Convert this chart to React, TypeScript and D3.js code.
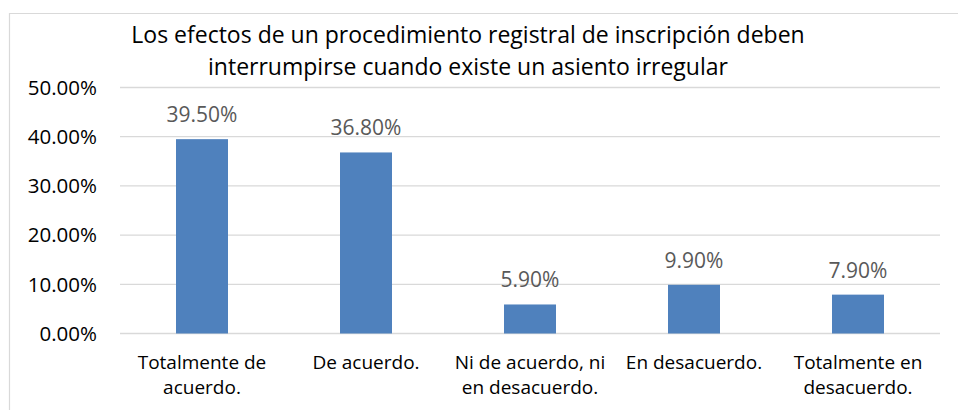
import React from "react";
import * as d3 from "d3";

const titleLines = [
  "Los efectos de un procedimiento registral de inscripción deben",
  "interrumpirse cuando existe un asiento irregular",
];
const categories = [
  ["Totalmente de", "acuerdo."],
  ["De acuerdo."],
  ["Ni de acuerdo, ni", "en desacuerdo."],
  ["En desacuerdo."],
  ["Totalmente en", "desacuerdo."],
];
const values = [0.395, 0.368, 0.059, 0.099, 0.079];
const yTicks = [0, 0.1, 0.2, 0.3, 0.4, 0.5];

const W = 958;
const H = 410;
const FONT = "'Open Sans', sans-serif";

export default function App() {
  const left = 120;
  const right = 940;
  const top = 87.5;
  const bottom = 333.5;
  const x = d3
    .scaleBand<number>()
    .domain(d3.range(categories.length))
    .range([left, right])
    .paddingInner(0.683)
    .paddingOuter(0.683 / 2);
  const y = d3.scaleLinear().domain([0, 0.5]).range([bottom, top]);
  const fmt = d3.format(".2%");
  const center = (i: number) => (x(i) as number) + x.bandwidth() / 2;

  return (
    <svg
      width={W}
      height={H}
      style={{ position: "absolute", left: 0, top: 0, background: "#fff" }}
      fontFamily={FONT}
    >
      <rect x={0} y={0} width={W} height={H} fill="#fff" />
      {/* chart border */}
      <path d={`M9.5,${H + 2} V13.5 H${W + 2}`} fill="none" stroke="#d9d9d9" strokeWidth={1.2} />
      {/* title */}
      {titleLines.map((t, i) => (
        <text key={i} x={468} y={43 + i * 32} textAnchor="middle" fontSize={23} fill="#000">
          {t}
        </text>
      ))}
      {/* gridlines */}
      {yTicks.map((t) => (
        <line key={t} x1={left} x2={right} y1={y(t)} y2={y(t)} stroke="#d9d9d9" strokeWidth={1.3} />
      ))}
      {/* y labels */}
      {yTicks.map((t) => (
        <text key={t} x={97} y={y(t)} dy="0.36em" textAnchor="end" fontSize={20.5} fill="#000">
          {fmt(t)}
        </text>
      ))}
      {/* bars */}
      {values.map((v, i) => (
        <rect
          key={i}
          x={x(i)}
          y={y(v)}
          width={x.bandwidth()}
          height={y(0) - y(v)}
          fill="#4f81bd"
        />
      ))}
      {/* data labels */}
      {values.map((v, i) => (
        <text key={i} x={center(i)} y={y(v) - 17} textAnchor="middle" fontSize={21} fill="#595959">
          {fmt(v)}
        </text>
      ))}
      {/* category labels */}
      {categories.map((lines, i) =>
        lines.map((l, j) => (
          <text key={`${i}-${j}`} x={center(i)} y={369 + j * 25} textAnchor="middle" fontSize={19} fill="#000">
            {l}
          </text>
        ))
      )}
    </svg>
  );
}
